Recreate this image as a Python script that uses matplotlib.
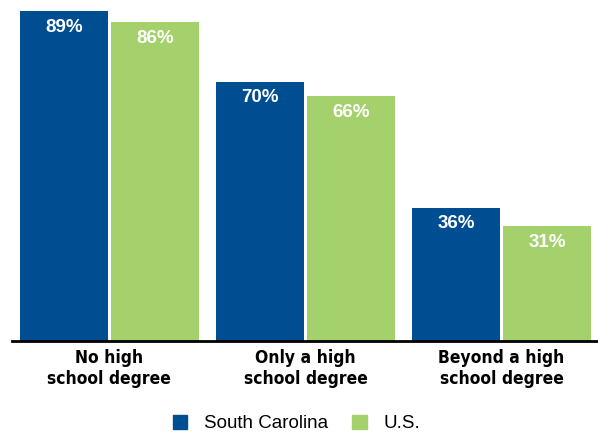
import numpy as np
import matplotlib.pyplot as plt
from matplotlib.patches import Patch

categories = ['No high\nschool degree', 'Only a high\nschool degree', 'Beyond a high\nschool degree']
south_carolina = [89, 70, 36]
us = [86, 66, 31]

blue = '#004e92'
green = '#a4d16b'

fig = plt.figure(figsize=(5.98, 4.37), dpi=100)
ax = fig.add_axes([0.020, 0.2197, 0.980, 0.7803])

x = np.arange(len(categories))
w = 0.449
off = 0.232
b1 = ax.bar(x - off, south_carolina, w, color=blue)
b2 = ax.bar(x + off, us, w, color=green)

for bars, vals in [(b1, south_carolina), (b2, us)]:
    for bar, v in zip(bars, vals):
        ax.annotate(f'{v}%', (bar.get_x() + bar.get_width() / 2, v),
                    xytext=(0, -5.5), textcoords='offset points',
                    ha='center', va='top', color='white',
                    fontsize=13.5, fontweight='bold', family='Liberation Sans')

ax.set_xlim(-0.497, 2.492)
ax.set_ylim(0, 92)
ax.set_yticks([])
ax.set_xticks(x)
ax.set_xticklabels(categories, fontsize=12.5, fontweight='bold',
                   family='DejaVu Sans', fontstretch='condensed', linespacing=1.2)
ax.tick_params(axis='x', length=0, pad=6)
for s in ['top', 'right', 'left']:
    ax.spines[s].set_visible(False)
ax.spines['bottom'].set_linewidth(2)
ax.spines['bottom'].set_color('black')

handles = [Patch(color=blue, label='South Carolina'), Patch(color=green, label='U.S.')]
fig.legend(handles=handles, loc='lower center', bbox_to_anchor=(0.496, -0.028),
           ncol=2, frameon=False, handlelength=0.75, handleheight=0.75,
           handletextpad=0.9, columnspacing=1.3,
           prop={'family': 'Liberation Sans', 'size': 13.5})

fig.savefig('out.png', dpi=100)
